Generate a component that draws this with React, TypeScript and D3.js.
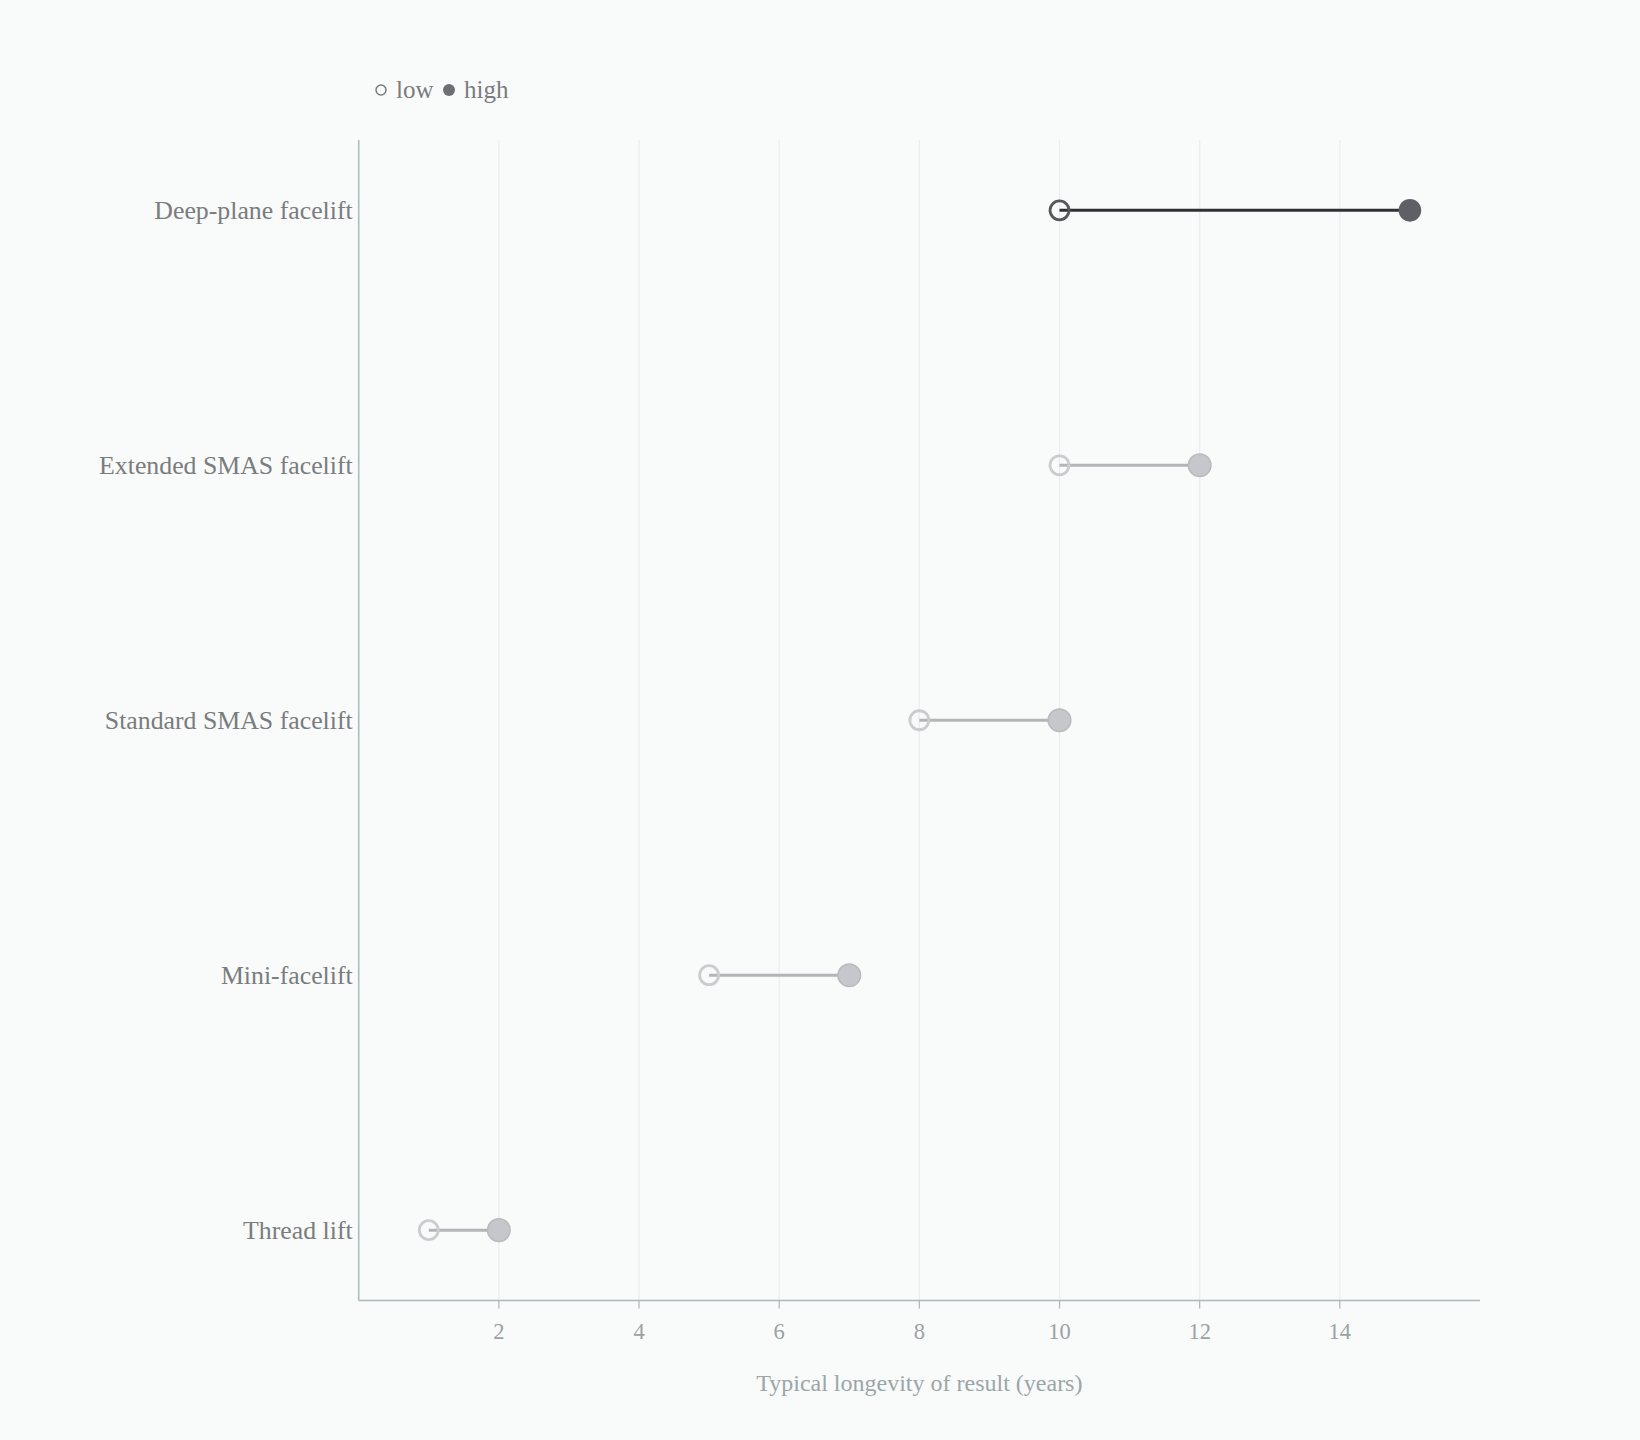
import React from "react";
import * as d3 from "d3";

const categories = ["Deep-plane facelift", "Extended SMAS facelift", "Standard SMAS facelift", "Mini-facelift", "Thread lift"];
const lowValues = [10, 10, 8, 5, 1];
const highValues = [15, 12, 10, 7, 2];
const highlighted = ["Deep-plane facelift"];
const xTicks = [2, 4, 6, 8, 10, 12, 14];
const xTitle = "Typical longevity of result (years)";

const W = 1640, H = 1440;
const left = 358.7, right = 1480, top = 140, bottom = 1300.5;
const FONT = "'Liberation Serif', 'Times New Roman', serif";

export default function App() {
  const x = d3.scaleLinear().domain([0, 16]).range([left, right]);
  const y = d3.scalePoint<string>().domain(categories).range([top, bottom]).padding(0.276);

  return (
    <div style={{ position: "absolute", left: 0, top: 0 }}>
      <svg width={W} height={H} style={{ display: "block", background: "#f9fafa" }} fontFamily={FONT}>
        <rect x={0} y={0} width={W} height={H} fill="#f9fafa" />
        {/* grid */}
        {xTicks.map((t) => (
          <line key={"g" + t} x1={x(t)} x2={x(t)} y1={top} y2={bottom} stroke="#ebeced" strokeWidth={1.2} />
        ))}
        {/* axes */}
        <line x1={left} x2={left} y1={top} y2={bottom} stroke="#a9b8b8" strokeWidth={1.5} />
        <line x1={left} x2={right} y1={bottom} y2={bottom} stroke="#a9b8b8" strokeWidth={1.5} />
        {xTicks.map((t) => (
          <g key={"t" + t}>
            <line x1={x(t)} x2={x(t)} y1={bottom} y2={bottom + 8} stroke="#a9b8b8" strokeWidth={1.2} />
            <text x={x(t)} y={bottom + 38} textAnchor="middle" fontSize={22.5} fill="#9aa2a4">{t}</text>
          </g>
        ))}
        <text x={(left + right) / 2} y={1391} textAnchor="middle" fontSize={24} fill="#9aa6a8">{xTitle}</text>
        {/* category labels */}
        {categories.map((c) => (
          <text key={"l" + c} x={left - 6} y={(y(c) as number) + 8.5} textAnchor="end" fontSize={25.8} fill="#7a7c7e">{c}</text>
        ))}
        {/* dumbbells */}
        {categories.map((c, i) => {
          const hl = highlighted.includes(c);
          const cy = y(c) as number;
          return (
            <g key={"d" + c}>
              <line x1={x(lowValues[i])} x2={x(highValues[i])} y1={cy} y2={cy}
                stroke={hl ? "#2e3033" : "#b4b5b9"} strokeWidth={3} />
              <circle cx={x(lowValues[i])} cy={cy} r={9.5} fill="none"
                stroke={hl ? "#55575a" : "#cbcccf"} strokeWidth={2.8} />
              <circle cx={x(highValues[i])} cy={cy} r={11.3}
                fill={hl ? "#5e6065" : "#c6c7cb"} stroke={hl ? "#5e6065" : "#babbbf"} strokeWidth={hl ? 0 : 1.5} />
            </g>
          );
        })}
        {/* legend */}
        <circle cx={381} cy={90} r={5} fill="none" stroke="#7a7c7e" strokeWidth={1.5} />
        <text x={396} y={97.5} fontSize={25} fill="#7a7c7e">low</text>
        <circle cx={449} cy={90} r={6} fill="#6d6f72" />
        <text x={464} y={97.5} fontSize={25} fill="#7a7c7e">high</text>
      </svg>
    </div>
  );
}
